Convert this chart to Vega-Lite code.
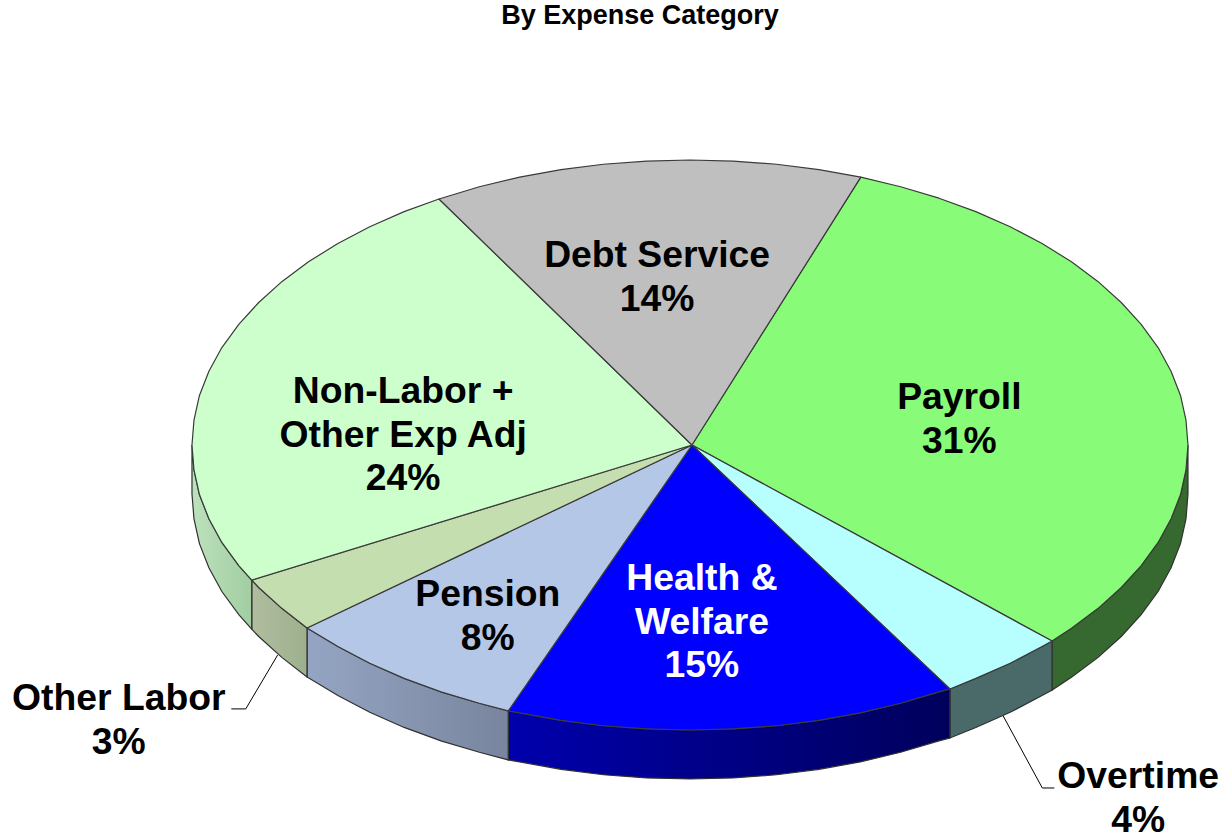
{"$schema":"https://vega.github.io/schema/vega-lite/v6.json","width":1220,"height":833,"padding":0,"autosize":{"type":"none"},"background":"white","config":{"view":{"stroke":null}},
"title":{"text":"By Expense Category","font":"Liberation Sans","fontSize":27,"fontWeight":"bold","color":"#000000","anchor":"middle","dx":30,"offset":-30},
"datasets":{
"walls":[
{"c":"Payroll","x":0.727,"y":-0.688,"y2":-0.86},{"c":"Payroll","x":0.766,"y":-0.643,"y2":-0.815},{"c":"Payroll","x":0.819,"y":-0.574,"y2":-0.746},{"c":"Payroll","x":0.866,"y":-0.5,"y2":-0.672},{"c":"Payroll","x":0.906,"y":-0.423,"y2":-0.595},{"c":"Payroll","x":0.94,"y":-0.342,"y2":-0.514},{"c":"Payroll","x":0.966,"y":-0.259,"y2":-0.431},{"c":"Payroll","x":0.985,"y":-0.174,"y2":-0.346},{"c":"Payroll","x":0.996,"y":-0.087,"y2":-0.259},{"c":"Payroll","x":1,"y":0,"y2":-0.172},
{"c":"Overtime","x":0.522,"y":-0.856,"y2":-1.028},{"c":"Overtime","x":0.574,"y":-0.819,"y2":-0.991},{"c":"Overtime","x":0.643,"y":-0.766,"y2":-0.938},{"c":"Overtime","x":0.707,"y":-0.707,"y2":-0.879},{"c":"Overtime","x":0.727,"y":-0.688,"y2":-0.86},
{"c":"Health","x":-0.365,"y":-0.933,"y2":-1.105},{"c":"Health","x":-0.342,"y":-0.94,"y2":-1.112},{"c":"Health","x":-0.259,"y":-0.966,"y2":-1.138},{"c":"Health","x":-0.174,"y":-0.985,"y2":-1.157},{"c":"Health","x":-0.087,"y":-0.996,"y2":-1.168},{"c":"Health","x":0,"y":-1,"y2":-1.172},{"c":"Health","x":0.087,"y":-0.996,"y2":-1.168},{"c":"Health","x":0.174,"y":-0.985,"y2":-1.157},{"c":"Health","x":0.259,"y":-0.966,"y2":-1.138},{"c":"Health","x":0.342,"y":-0.94,"y2":-1.112},{"c":"Health","x":0.423,"y":-0.906,"y2":-1.078},{"c":"Health","x":0.5,"y":-0.866,"y2":-1.038},{"c":"Health","x":0.522,"y":-0.856,"y2":-1.028},
{"c":"Pension","x":-0.769,"y":-0.642,"y2":-0.814},{"c":"Pension","x":-0.707,"y":-0.707,"y2":-0.879},{"c":"Pension","x":-0.643,"y":-0.766,"y2":-0.938},{"c":"Pension","x":-0.574,"y":-0.819,"y2":-0.991},{"c":"Pension","x":-0.5,"y":-0.866,"y2":-1.038},{"c":"Pension","x":-0.423,"y":-0.906,"y2":-1.078},{"c":"Pension","x":-0.365,"y":-0.933,"y2":-1.105},
{"c":"Other","x":-0.88,"y":-0.474,"y2":-0.646},{"c":"Other","x":-0.866,"y":-0.5,"y2":-0.672},{"c":"Other","x":-0.819,"y":-0.574,"y2":-0.746},{"c":"Other","x":-0.769,"y":-0.642,"y2":-0.814},
{"c":"NonLabor","x":-1,"y":0,"y2":-0.172},{"c":"NonLabor","x":-0.996,"y":-0.087,"y2":-0.259},{"c":"NonLabor","x":-0.985,"y":-0.174,"y2":-0.346},{"c":"NonLabor","x":-0.966,"y":-0.259,"y2":-0.431},{"c":"NonLabor","x":-0.94,"y":-0.342,"y2":-0.514},{"c":"NonLabor","x":-0.906,"y":-0.423,"y2":-0.595},{"c":"NonLabor","x":-0.88,"y":-0.474,"y2":-0.646}
],
"tops":[
{"c":"Payroll","x":0.004,"y":0},{"c":"Payroll","x":0.343,"y":0.94},{"c":"Payroll","x":0.423,"y":0.906},{"c":"Payroll","x":0.5,"y":0.866},{"c":"Payroll","x":0.574,"y":0.819},{"c":"Payroll","x":0.643,"y":0.766},{"c":"Payroll","x":0.707,"y":0.707},{"c":"Payroll","x":0.766,"y":0.643},{"c":"Payroll","x":0.819,"y":0.574},{"c":"Payroll","x":0.866,"y":0.5},{"c":"Payroll","x":0.906,"y":0.423},{"c":"Payroll","x":0.94,"y":0.342},{"c":"Payroll","x":0.966,"y":0.259},{"c":"Payroll","x":0.985,"y":0.174},{"c":"Payroll","x":0.996,"y":0.087},{"c":"Payroll","x":1,"y":0},{"c":"Payroll","x":0.996,"y":-0.087},{"c":"Payroll","x":0.985,"y":-0.174},{"c":"Payroll","x":0.966,"y":-0.259},{"c":"Payroll","x":0.94,"y":-0.342},{"c":"Payroll","x":0.906,"y":-0.423},{"c":"Payroll","x":0.866,"y":-0.5},{"c":"Payroll","x":0.819,"y":-0.574},{"c":"Payroll","x":0.766,"y":-0.643},{"c":"Payroll","x":0.727,"y":-0.688},{"c":"Payroll","x":0.004,"y":0},
{"c":"Overtime","x":0.004,"y":0},{"c":"Overtime","x":0.727,"y":-0.688},{"c":"Overtime","x":0.707,"y":-0.707},{"c":"Overtime","x":0.643,"y":-0.766},{"c":"Overtime","x":0.574,"y":-0.819},{"c":"Overtime","x":0.522,"y":-0.856},{"c":"Overtime","x":0.004,"y":0},
{"c":"Health","x":0.004,"y":0},{"c":"Health","x":0.522,"y":-0.856},{"c":"Health","x":0.5,"y":-0.866},{"c":"Health","x":0.423,"y":-0.906},{"c":"Health","x":0.342,"y":-0.94},{"c":"Health","x":0.259,"y":-0.966},{"c":"Health","x":0.174,"y":-0.985},{"c":"Health","x":0.087,"y":-0.996},{"c":"Health","x":0,"y":-1},{"c":"Health","x":-0.087,"y":-0.996},{"c":"Health","x":-0.174,"y":-0.985},{"c":"Health","x":-0.259,"y":-0.966},{"c":"Health","x":-0.342,"y":-0.94},{"c":"Health","x":-0.365,"y":-0.933},{"c":"Health","x":0.004,"y":0},
{"c":"Pension","x":0.004,"y":0},{"c":"Pension","x":-0.365,"y":-0.933},{"c":"Pension","x":-0.423,"y":-0.906},{"c":"Pension","x":-0.5,"y":-0.866},{"c":"Pension","x":-0.574,"y":-0.819},{"c":"Pension","x":-0.643,"y":-0.766},{"c":"Pension","x":-0.707,"y":-0.707},{"c":"Pension","x":-0.769,"y":-0.642},{"c":"Pension","x":0.004,"y":0},
{"c":"Other","x":0.004,"y":0},{"c":"Other","x":-0.769,"y":-0.642},{"c":"Other","x":-0.819,"y":-0.574},{"c":"Other","x":-0.866,"y":-0.5},{"c":"Other","x":-0.88,"y":-0.474},{"c":"Other","x":0.004,"y":0},
{"c":"NonLabor","x":0.004,"y":0},{"c":"NonLabor","x":-0.88,"y":-0.474},{"c":"NonLabor","x":-0.906,"y":-0.423},{"c":"NonLabor","x":-0.94,"y":-0.342},{"c":"NonLabor","x":-0.966,"y":-0.259},{"c":"NonLabor","x":-0.985,"y":-0.174},{"c":"NonLabor","x":-0.996,"y":-0.087},{"c":"NonLabor","x":-1,"y":0},{"c":"NonLabor","x":-0.996,"y":0.087},{"c":"NonLabor","x":-0.985,"y":0.174},{"c":"NonLabor","x":-0.966,"y":0.259},{"c":"NonLabor","x":-0.94,"y":0.342},{"c":"NonLabor","x":-0.906,"y":0.423},{"c":"NonLabor","x":-0.866,"y":0.5},{"c":"NonLabor","x":-0.819,"y":0.574},{"c":"NonLabor","x":-0.766,"y":0.643},{"c":"NonLabor","x":-0.707,"y":0.707},{"c":"NonLabor","x":-0.643,"y":0.766},{"c":"NonLabor","x":-0.574,"y":0.819},{"c":"NonLabor","x":-0.504,"y":0.863},{"c":"NonLabor","x":0.004,"y":0},
{"c":"Debt","x":0.004,"y":0},{"c":"Debt","x":-0.504,"y":0.863},{"c":"Debt","x":-0.423,"y":0.906},{"c":"Debt","x":-0.342,"y":0.94},{"c":"Debt","x":-0.259,"y":0.966},{"c":"Debt","x":-0.174,"y":0.985},{"c":"Debt","x":-0.087,"y":0.996},{"c":"Debt","x":0,"y":1},{"c":"Debt","x":0.087,"y":0.996},{"c":"Debt","x":0.174,"y":0.985},{"c":"Debt","x":0.259,"y":0.966},{"c":"Debt","x":0.343,"y":0.94},{"c":"Debt","x":0.004,"y":0}
],
"leaders":[
{"c":"Other","x":-0.828,"y":-0.737},{"c":"Other","x":-0.892,"y":-0.926},{"c":"Other","x":-0.921,"y":-0.926},
{"c":"Overtime","x":0.629,"y":-0.951},{"c":"Overtime","x":0.7075,"y":-1.2035},{"c":"Overtime","x":0.7316,"y":-1.2035}
],
"labels":[
{"t":"Payroll\n31%","x":0.541,"y":0.165,"k":"dark"},
{"t":"Debt Service\n14%","x":-0.066,"y":0.663,"k":"dark"},
{"t":"Non-Labor +\nOther Exp Adj\n24%","x":-0.576,"y":0.186,"k":"dark"},
{"t":"Pension\n8%","x":-0.406,"y":-0.526,"k":"dark"},
{"t":"Health &\nWelfare\n15%","x":0.024,"y":-0.47,"k":"light"},
{"t":"Other Labor\n3%","x":-1.147,"y":-0.891,"k":"dark"},
{"t":"Overtime\n4%","x":0.9,"y":-1.165,"k":"dark"}
]},
"encoding":{
"x":{"field":"x","type":"quantitative","axis":null,"scale":{"domain":[-1.3855,1.0643],"nice":false,"zero":false}},
"y":{"field":"y","type":"quantitative","axis":null,"scale":{"domain":[-1.3614,1.5614],"nice":false,"zero":false}}},
"layer":[
{"data":{"name":"walls"},"transform":[{"filter":"datum.c==='Payroll'"}],"mark":{"type":"area","stroke":"#303030","strokeWidth":1.2,"fill":"#36692f"},"encoding":{"y2":{"field":"y2"}}},
{"data":{"name":"walls"},"transform":[{"filter":"datum.c==='Overtime'"}],"mark":{"type":"area","stroke":"#303030","strokeWidth":1.2,"fill":"#4a6a69"},"encoding":{"y2":{"field":"y2"}}},
{"data":{"name":"walls"},"transform":[{"filter":"datum.c==='Health'"}],"mark":{"type":"area","stroke":"#303030","strokeWidth":1.2,"fill":{"gradient":"linear","x1":0,"x2":1,"y1":0,"y2":0,"stops":[{"offset":0,"color":"#0000ad"},{"offset":1,"color":"#00005c"}]}},"encoding":{"y2":{"field":"y2"}}},
{"data":{"name":"walls"},"transform":[{"filter":"datum.c==='Pension'"}],"mark":{"type":"area","stroke":"#303030","strokeWidth":1.2,"fill":{"gradient":"linear","x1":0,"x2":1,"y1":0,"y2":0,"stops":[{"offset":0,"color":"#94a5c3"},{"offset":1,"color":"#79859e"}]}},"encoding":{"y2":{"field":"y2"}}},
{"data":{"name":"walls"},"transform":[{"filter":"datum.c==='Other'"}],"mark":{"type":"area","stroke":"#303030","strokeWidth":1.2,"fill":{"gradient":"linear","x1":0,"x2":1,"y1":0,"y2":0,"stops":[{"offset":0,"color":"#b0bd9f"},{"offset":1,"color":"#9db08d"}]}},"encoding":{"y2":{"field":"y2"}}},
{"data":{"name":"walls"},"transform":[{"filter":"datum.c==='NonLabor'"}],"mark":{"type":"area","stroke":"#303030","strokeWidth":1.2,"fill":{"gradient":"linear","x1":0,"x2":1,"y1":0,"y2":0,"stops":[{"offset":0,"color":"#bce2bc"},{"offset":1,"color":"#a2cda2"}]}},"encoding":{"y2":{"field":"y2"}}},
{"data":{"name":"tops"},"mark":{"type":"line","stroke":"#3a3a3a","strokeWidth":1.2,"strokeJoin":"round"},"encoding":{"order":{"value":null},"detail":{"field":"c"},"fill":{"field":"c","type":"nominal","legend":null,"scale":{"domain":["Payroll","Overtime","Health","Pension","Other","NonLabor","Debt"],"range":["#88fb78","#b7ffff","#0000ff","#b4c7e7","#c5deb0","#ccffcc","#bfbfbf"]}}}},
{"data":{"name":"leaders"},"mark":{"type":"line","stroke":"#000000","strokeWidth":1},"encoding":{"order":{"value":null},"detail":{"field":"c"}}},
{"data":{"name":"labels"},"transform":[{"filter":"datum.k==='dark'"}],"mark":{"type":"text","font":"Liberation Sans","fontSize":37.3,"fontWeight":"bold","lineBreak":"\n","lineHeight":43.7,"align":"center","baseline":"middle","fill":"#000000"},"encoding":{"text":{"field":"t"}}},
{"data":{"name":"labels"},"transform":[{"filter":"datum.k==='light'"}],"mark":{"type":"text","font":"Liberation Sans","fontSize":37.3,"fontWeight":"bold","lineBreak":"\n","lineHeight":43.7,"align":"center","baseline":"middle","fill":"#ffffff"},"encoding":{"text":{"field":"t"}}}
]}
